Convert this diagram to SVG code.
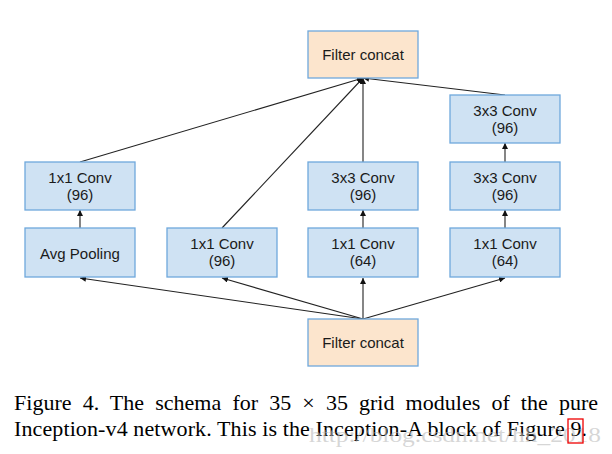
<svg xmlns="http://www.w3.org/2000/svg" width="612" height="454" viewBox="0 0 612 454">
<style>
.blue{fill:#cfe2f3;stroke:#6fa8dc;stroke-width:1.3}
.orange{fill:#fce5cd;stroke:#6fa8dc;stroke-width:1.3}
.lbl{font-family:"Liberation Sans",Arial,sans-serif;font-size:15px;fill:#1a1a1a;text-anchor:middle}
.edge{stroke:#222;stroke-width:1.1;fill:none;marker-end:url(#arr)}
.cap{font-family:"Liberation Serif","Times New Roman",serif;font-size:22px;fill:#000}
</style>
<defs>
<marker id="arr" viewBox="0 0 10 10" refX="10" refY="5" markerWidth="6" markerHeight="6" markerUnits="userSpaceOnUse" orient="auto">
<path d="M0,0 L10,5 L0,10 z" fill="#111"/>
</marker>
</defs>
<rect width="612" height="454" fill="#fff"/>
<g id="connectors">
<line class="edge" x1="363" y1="319" x2="80" y2="278"/>
<line class="edge" x1="363" y1="319" x2="222" y2="278"/>
<line class="edge" x1="363" y1="319" x2="363" y2="278"/>
<line class="edge" x1="363" y1="319" x2="505" y2="278"/>
<line class="edge" x1="80" y1="228" x2="80" y2="210"/>
<line class="edge" x1="80" y1="162" x2="363" y2="78"/>
<line class="edge" x1="222" y1="228" x2="363" y2="78"/>
<line class="edge" x1="363" y1="228" x2="363" y2="210"/>
<line class="edge" x1="363" y1="162" x2="363" y2="78"/>
<line class="edge" x1="505" y1="228" x2="505" y2="210"/>
<line class="edge" x1="505" y1="162" x2="505" y2="143"/>
<line class="edge" x1="505" y1="95" x2="363" y2="78"/>
</g>
<g id="concat_top"><rect class="orange" x="308" y="31" width="110" height="47"/><text class="lbl" x="363" y="60">Filter concat</text></g>
<g id="conv1x1_a"><rect class="blue" x="25" y="162" width="110" height="48"/><text class="lbl" x="80" y="183">1x1 Conv</text><text class="lbl" x="80" y="200">(96)</text></g>
<g id="avgpool"><rect class="blue" x="25" y="228" width="110" height="49"/><text class="lbl" x="80" y="259">Avg Pooling</text></g>
<g id="conv1x1_b"><rect class="blue" x="167" y="228" width="110" height="49"/><text class="lbl" x="222" y="249">1x1 Conv</text><text class="lbl" x="222" y="266">(96)</text></g>
<g id="conv3x3_c"><rect class="blue" x="308" y="162" width="110" height="48"/><text class="lbl" x="363" y="183">3x3 Conv</text><text class="lbl" x="363" y="200">(96)</text></g>
<g id="conv1x1_c"><rect class="blue" x="308" y="228" width="110" height="49"/><text class="lbl" x="363" y="249">1x1 Conv</text><text class="lbl" x="363" y="266">(64)</text></g>
<g id="conv3x3_d2"><rect class="blue" x="450" y="95" width="110" height="48"/><text class="lbl" x="505" y="116">3x3 Conv</text><text class="lbl" x="505" y="133">(96)</text></g>
<g id="conv3x3_d1"><rect class="blue" x="450" y="162" width="110" height="48"/><text class="lbl" x="505" y="183">3x3 Conv</text><text class="lbl" x="505" y="200">(96)</text></g>
<g id="conv1x1_d"><rect class="blue" x="450" y="228" width="110" height="49"/><text class="lbl" x="505" y="249">1x1 Conv</text><text class="lbl" x="505" y="266">(64)</text></g>
<g id="concat_bottom"><rect class="orange" x="308" y="319" width="110" height="47"/><text class="lbl" x="363" y="348">Filter concat</text></g>
<g id="caption">
<text class="cap" x="14" y="410" textLength="584" lengthAdjust="spacing" style="word-spacing:5.6px">Figure 4. The schema for 35 × 35 grid modules of the pure</text>
<text class="cap" x="14" y="436" textLength="573" lengthAdjust="spacing">Inception-v4 network. This is the Inception-A block of Figure 9.</text>
<text x="309" y="442" font-family="Liberation Serif,serif" font-size="20" fill="#bbb" fill-opacity="0.6" textLength="292" lengthAdjust="spacingAndGlyphs">http://blog.csdn.net/hh_2018</text>
<rect x="568" y="419" width="15" height="24" fill="none" stroke="#e00" stroke-width="1.3"/>
</g>
</svg>
